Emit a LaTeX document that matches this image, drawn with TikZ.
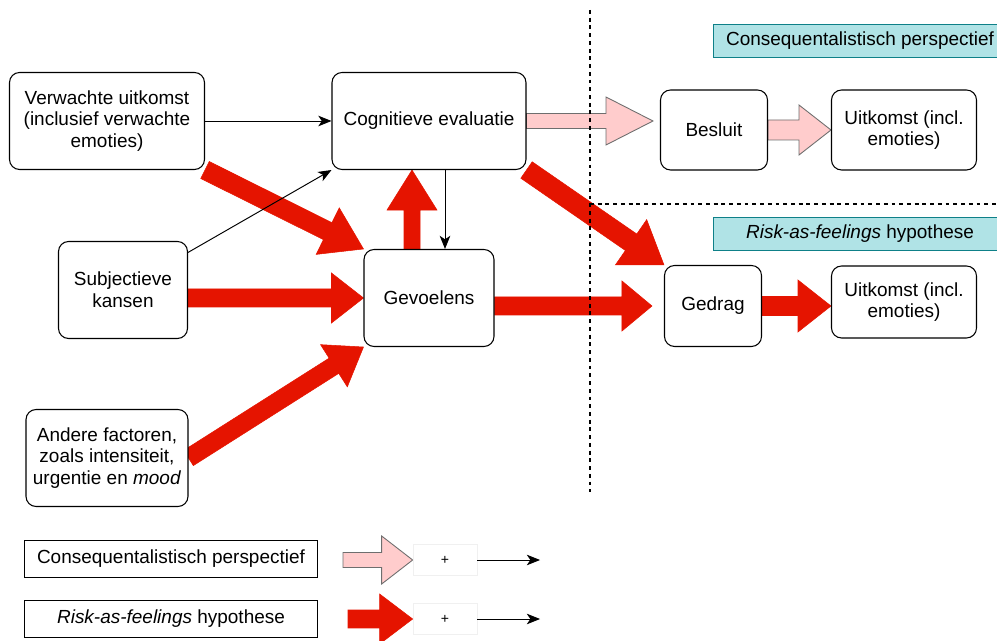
\documentclass[tikz,border=0pt]{standalone}
\usepackage{fontspec}
\setmainfont{Liberation Sans}
\usetikzlibrary{calc,backgrounds,arrows.meta}
\definecolor{redarrow}{RGB}{229,20,0}
\definecolor{pinkarrow}{RGB}{255,204,204}
\definecolor{pinkline}{RGB}{110,110,110}
\definecolor{tagfill}{RGB}{176,227,230}
\definecolor{tagline}{RGB}{14,128,136}
\newcommand{\fatarrow}[6]{%
\draw[#1] ($(#2)!#4!90:(#3)$) -- ($(#3)!#6!(#2)!#4!-90:(#2)$) -- ($(#3)!#6!(#2)!#5!-90:(#2)$) -- (#3)
 -- ($(#3)!#6!(#2)!#5!90:(#2)$) -- ($(#3)!#6!(#2)!#4!90:(#2)$) -- ($(#2)!#4!-90:(#3)$) -- cycle;}

\begin{document}
\begin{tikzpicture}[x=0.02cm, y=-0.02cm, font=\fontsize{10.8}{12.4}\selectfont,
 box/.style={draw, rounded corners=0.2cm, fill=white, align=center, line width=0.6pt, inner sep=2pt},
 tag/.style={draw=tagline, fill=tagfill, line width=0.6pt, minimum width=5.88cm, minimum height=0.66cm},
 legbox/.style={draw, fill=white, line width=0.6pt, minimum width=5.86cm, minimum height=0.74cm},
 plusbox/.style={draw=black!6, fill=white, minimum width=1.28cm, minimum height=0.62cm, font=\fontsize{8}{9}\selectfont},
 thinarrow/.style={-{Stealth[length=7.5pt,width=6pt,inset=2pt]}, line width=0.55pt},
 redfat/.style={fill=redarrow, draw=redarrow, line width=0.3pt},
 pinkfat/.style={fill=pinkarrow, draw=pinkline, line width=0.5pt},
 dashline/.style={dash pattern=on 2.2pt off 2.2pt, line width=0.6pt}]
\useasboundingbox (0,0) rectangle (997,641);
\clip (0,0) rectangle (997,641);

\node[box, minimum width=3.9cm, minimum height=1.94cm] (verw) at (107,121) {Verwachte uitkomst\\(inclusief verwachte\\emoties)};
\node[box, minimum width=3.88cm, minimum height=1.94cm] (cogn) at (429,121) {Cognitieve evaluatie};
\node[box, minimum width=2.58cm, minimum height=1.94cm] (subj) at (123,290) {Subjectieve\\kansen};
\node[box, minimum width=2.6cm, minimum height=1.94cm] (gevo) at (429,298) {Gevoelens};
\node[box, minimum width=3.24cm, minimum height=1.94cm] (andere) at (107,458) {Andere factoren,\\zoals intensiteit,\\urgentie en \textit{mood}};
\node[box, minimum width=2.14cm, minimum height=1.6cm] (besluit) at (714,130) {Besluit};
\node[box, minimum width=2.9cm, minimum height=1.6cm] (uitk1) at (904,130) {Uitkomst (incl.\\emoties)};
\node[box, minimum width=1.94cm, minimum height=1.62cm] (gedrag) at (713,306) {Gedrag};
\node[box, minimum width=2.9cm, minimum height=1.44cm] (uitk2) at (904,302) {Uitkomst (incl.\\emoties)};

\node[tag] (tagc) at (860,41) {Consequentalistisch perspectief};
\node[tag] (tagr) at (860,234) {\textit{Risk-as-feelings} hypothese};

\node[legbox] (legc) at (171,559) {Consequentalistisch perspectief};
\node[legbox] (legr) at (171,619) {\textit{Risk-as-feelings} hypothese};
\node[plusbox] (plusc) at (445,560) {+};
\node[plusbox] (plusr) at (445,619) {+};
\coordinate (legcstart) at (343,560);
\coordinate (legrstart) at (348,619);
\coordinate (legcend) at (540,560);
\coordinate (legrend) at (540,619);

\coordinate (cbtip) at ([xshift=-0.14cm]besluit.west |- cogn.east);
\coordinate (gup) at ([xshift=-0.34cm]gevo.north);
\coordinate (cdown) at ([xshift=-0.34cm]cogn.south);
\coordinate (sg) at (subj.east |- gevo.west);
\coordinate (gg) at (gevo.east |- gedrag.west);
\coordinate (ggtip) at ([xshift=-0.24cm]gedrag.west);
\coordinate (gu) at (uitk2.west |- gedrag.east);

\begin{scope}[on background layer]
\fatarrow{pinkfat}{cogn.east}{cbtip}{0.15cm}{0.48cm}{0.94cm}
\fatarrow{pinkfat}{besluit.east}{uitk1.west}{0.2cm}{0.5cm}{0.64cm}
\fatarrow{redfat}{verw.south east}{gevo.north west}{0.19cm}{0.52cm}{0.8cm}
\fatarrow{redfat}{gup}{cdown}{0.16cm}{0.5cm}{0.8cm}
\fatarrow{redfat}{sg}{gevo.west}{0.18cm}{0.5cm}{0.64cm}
\fatarrow{redfat}{andere.east}{gevo.south west}{0.18cm}{0.5cm}{0.7cm}
\fatarrow{redfat}{gg}{ggtip}{0.18cm}{0.5cm}{0.6cm}
\fatarrow{redfat}{cogn.south east}{gedrag.north west}{0.2cm}{0.55cm}{0.8cm}
\fatarrow{redfat}{gedrag.east}{gu}{0.19cm}{0.52cm}{0.66cm}
\fatarrow{pinkfat}{legcstart}{plusc.west}{0.15cm}{0.48cm}{0.62cm}
\fatarrow{redfat}{legrstart}{plusr.west}{0.18cm}{0.5cm}{0.66cm}
\draw[dashline] (590,10) -- (590,492);
\draw[dashline] (590,204) -- (1000,204);
\end{scope}

\draw[thinarrow] (verw.east) -- (cogn.west);
\draw[thinarrow] (subj.30) -- (cogn.south west);
\draw[thinarrow] ([xshift=0.32cm]cogn.south) -- ([xshift=0.32cm]gevo.north);
\draw[thinarrow] (plusc.east) -- (legcend);
\draw[thinarrow] (plusr.east) -- (legrend);
\end{tikzpicture}
\end{document}
